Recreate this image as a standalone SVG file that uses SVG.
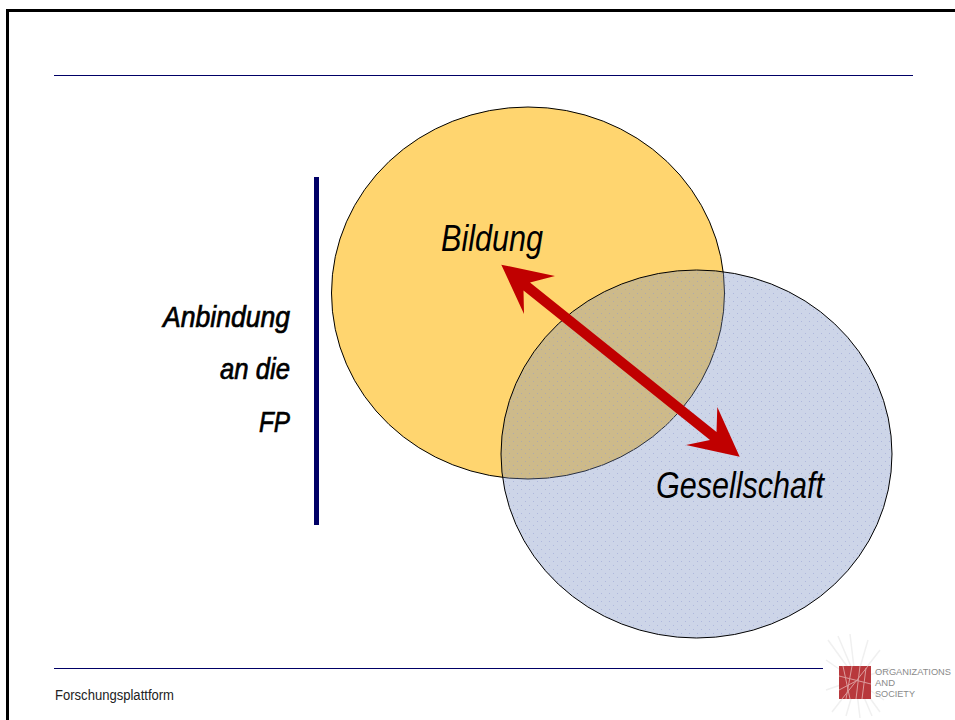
<svg xmlns="http://www.w3.org/2000/svg" width="955" height="720" viewBox="0 0 955 720">
<style>
.rule{stroke:#000066;stroke-width:1;fill:none}
.lab{font-family:"Liberation Sans",Arial,sans-serif;font-style:italic;fill:#000}
.side{font-size:29px;stroke:#000;stroke-width:0.7}
.big{font-size:36px}
.logo{font-family:"Liberation Sans",Arial,sans-serif;font-size:9.5px;fill:#8a8a8a}
</style>
<defs>
<pattern id="dots" width="8" height="8" patternUnits="userSpaceOnUse">
<rect width="8" height="8" fill="#7087bd" fill-opacity="0.35"/>
<rect x="1" y="1" width="1" height="1" fill="#8f9ad0" fill-opacity="0.5"/>
<rect x="5" y="5" width="1" height="1" fill="#8f9ad0" fill-opacity="0.5"/>
</pattern>
</defs>
<rect width="955" height="720" fill="#fff"/>
<path id="frame" d="M7.5 720V10.5H955" fill="none" stroke="#000" stroke-width="3"/>
<line class="rule" x1="54" y1="75.5" x2="913" y2="75.5"/>
<line class="rule" x1="54" y1="668.5" x2="823" y2="668.5"/>
<rect id="side-bar" x="314" y="177" width="5" height="348" fill="#000066"/>
<g id="node-bildung">
<ellipse cx="528" cy="293" rx="196.5" ry="186" fill="#ffd56f" stroke="#000" stroke-width="1"/>
<text class="lab big" x="441" y="251" textLength="102" lengthAdjust="spacingAndGlyphs">Bildung</text>
</g>
<g id="node-gesellschaft">
<ellipse cx="696.5" cy="454" rx="195.5" ry="184" fill="url(#dots)" stroke="#000" stroke-width="1"/>
<text class="lab big" x="656" y="498" textLength="168" lengthAdjust="spacingAndGlyphs">Gesellschaft</text>
</g>
<g id="connectors">
<path fill="#c00000" d="M501.3 264.7L555 276L530 282.5L716.5 432L717.3 407L739.7 456.7L686 445L710 440L523.5 290.5L524 314Z"/>
</g>
<g id="node-anbindung">
<text class="lab side" x="163" y="327" textLength="127" lengthAdjust="spacingAndGlyphs">Anbindung</text>
<text class="lab side" x="220" y="379" textLength="70" lengthAdjust="spacingAndGlyphs">an die</text>
<text class="lab side" x="259" y="432" textLength="31" lengthAdjust="spacingAndGlyphs">FP</text>
</g>
<text id="footer" x="55" y="700" fill="#222" font-family="'Liberation Sans',Arial,sans-serif" font-size="14" textLength="119" lengthAdjust="spacingAndGlyphs">Forschungsplattform</text>
<g id="logo">
<g stroke="#f0f0f0" stroke-width="1.5" fill="none">
<path d="M828 640L880 712M838 636L872 716M850 634L860 718M868 640L846 716M880 650L832 712M826 660L884 700M890 668L826 690"/>
</g>
<rect x="839" y="666" width="32" height="33" fill="#b8383c"/>
<g stroke="#dc9c9c" stroke-width="1" fill="none">
<path d="M843 666L850 699M852 666L846 699M860 666L856 699M866 668L862 699M839 676L871 684M839 690L858 680M868 666L842 699"/>
</g>
<text class="logo" x="875" y="675" textLength="76" lengthAdjust="spacingAndGlyphs">ORGANIZATIONS</text>
<text class="logo" x="875" y="686">AND</text>
<text class="logo" x="875" y="697" textLength="40" lengthAdjust="spacingAndGlyphs">SOCIETY</text>
</g>
</svg>
